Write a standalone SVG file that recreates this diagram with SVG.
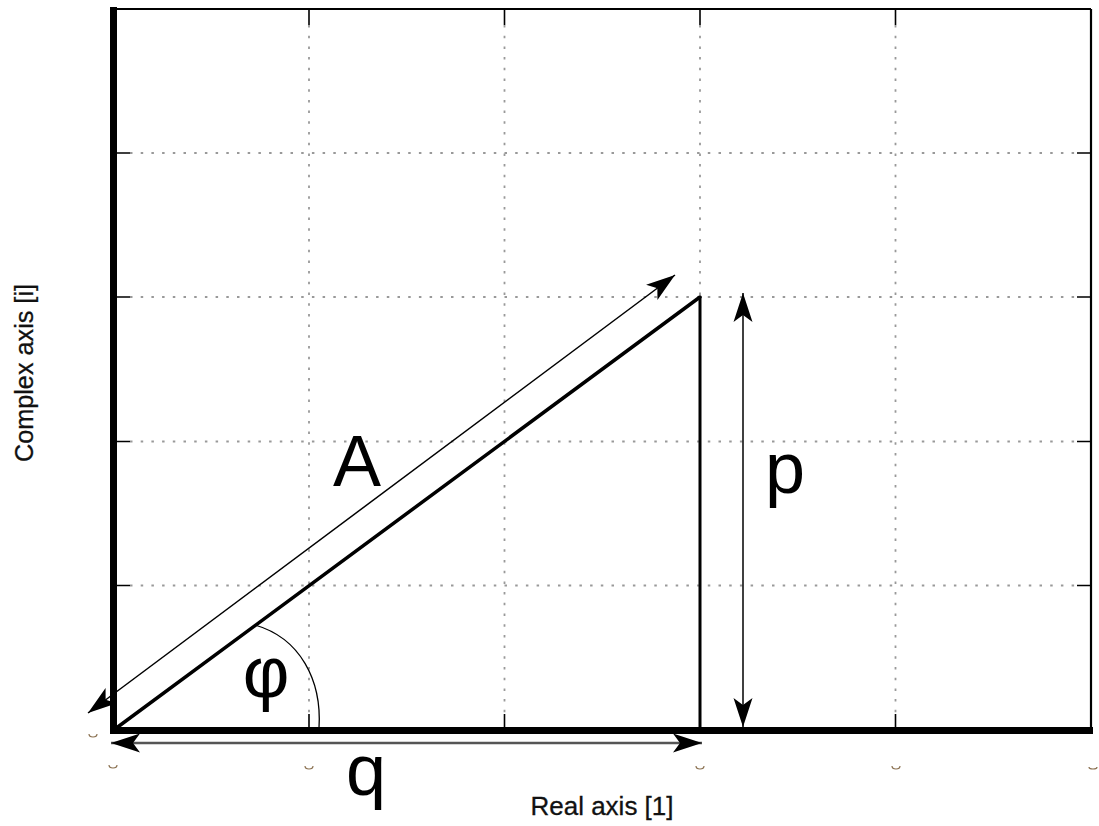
<svg xmlns="http://www.w3.org/2000/svg" width="1099" height="826" viewBox="0 0 1099 826">
<style>
.grid{stroke:#999;stroke-width:1.8;stroke-dasharray:2.5 8.2;fill:none}
.tick{stroke:#000;stroke-width:1.6;fill:none}
.big{font-family:"Liberation Sans",Arial,sans-serif;font-size:72px;fill:#000;text-anchor:middle}
.lab{font-family:"Liberation Sans",Arial,sans-serif;font-size:25px;fill:#111;text-anchor:middle;stroke:#111;stroke-width:0.3}
.art{stroke:#8a7050;stroke-width:1.2;fill:none}
</style>
<defs>
<marker id="ah" viewBox="-32 -11 34 22" markerWidth="34" markerHeight="22" refX="0" refY="0" markerUnits="userSpaceOnUse" orient="auto-start-reverse">
<path d="M0,0 L-29,-9.5 L-22,0 L-29,9.5 Z" fill="#000"/>
</marker>
</defs>
<rect width="1099" height="826" fill="#fff"/>
<g id="grid">
<line class="grid" x1="309" y1="25" x2="309" y2="714"/>
<line class="grid" x1="504.5" y1="25" x2="504.5" y2="714"/>
<line class="grid" x1="700" y1="25" x2="700" y2="297"/>
<line class="grid" x1="895.5" y1="25" x2="895.5" y2="714"/>
<line class="grid" x1="130" y1="153" x2="1077" y2="153"/>
<line class="grid" x1="130" y1="297" x2="1077" y2="297"/>
<line class="grid" x1="130" y1="441.5" x2="1077" y2="441.5"/>
<line class="grid" x1="130" y1="585.5" x2="1077" y2="585.5"/>
</g>
<g id="ticks">
<path class="tick" d="M309,9V25M504.5,9V25M700,9V25M895.5,9V25M309,730V714M504.5,730V714M895.5,730V714M117,153H130M117,297H130M117,441.5H130M117,585.5H130M1091,153H1077M1091,297H1077M1091,441.5H1077M1091,585.5H1077"/>
</g>
<g id="frame">
<line x1="113" y1="9" x2="1091" y2="9" stroke="#000" stroke-width="2.2"/>
<line x1="1091" y1="9" x2="1091" y2="730" stroke="#000" stroke-width="2.2"/>
<line x1="113.5" y1="7" x2="113.5" y2="734" stroke="#000" stroke-width="7"/>
<line x1="110" y1="730.5" x2="1093" y2="730.5" stroke="#000" stroke-width="7"/>
</g>
<g id="artifacts">
<path class="art" d="M89,734 a4,3 0 0 0 8,0"/>
<path class="art" d="M109,765 a4,3 0 0 0 8,0"/>
<path class="art" d="M305,766 a4,3 0 0 0 8,0"/>
<path class="art" d="M696,766 a4,3 0 0 0 8,0"/>
<path class="art" d="M892,766 a4,3 0 0 0 8,0"/>
<path class="art" d="M1089,767 a4,2 0 0 0 8,0"/>
</g>
<g id="triangle">
<line x1="115" y1="729" x2="700" y2="297" stroke="#000" stroke-width="3.5" stroke-linecap="round"/>
<line x1="700" y1="297" x2="700" y2="729" stroke="#000" stroke-width="3"/>
<path d="M255,625 C300,638 322,680 319,728" fill="none" stroke="#000" stroke-width="1.3"/>
</g>
<g id="connectors">
<line x1="88" y1="713" x2="675" y2="275" stroke="#000" stroke-width="1.5" marker-start="url(#ah)" marker-end="url(#ah)"/>
<line x1="743" y1="293" x2="743" y2="727" stroke="#000" stroke-width="1.5" marker-start="url(#ah)" marker-end="url(#ah)"/>
<line x1="111" y1="743" x2="702" y2="743" stroke="#555" stroke-width="2.5" marker-start="url(#ah)" marker-end="url(#ah)"/>
</g>
<g id="labels">
<text class="big" x="357" y="486">A</text>
<text class="big" x="785" y="493">p</text>
<text class="big" x="366" y="795">q</text>
<text class="big" x="266" y="697">φ</text>
<text class="lab" x="602" y="815" textLength="143" lengthAdjust="spacingAndGlyphs">Real axis [1]</text>
<text class="lab" transform="translate(33,373) rotate(-90)" x="0" y="0" textLength="178" lengthAdjust="spacingAndGlyphs">Complex axis [i]</text>
</g>
</svg>
